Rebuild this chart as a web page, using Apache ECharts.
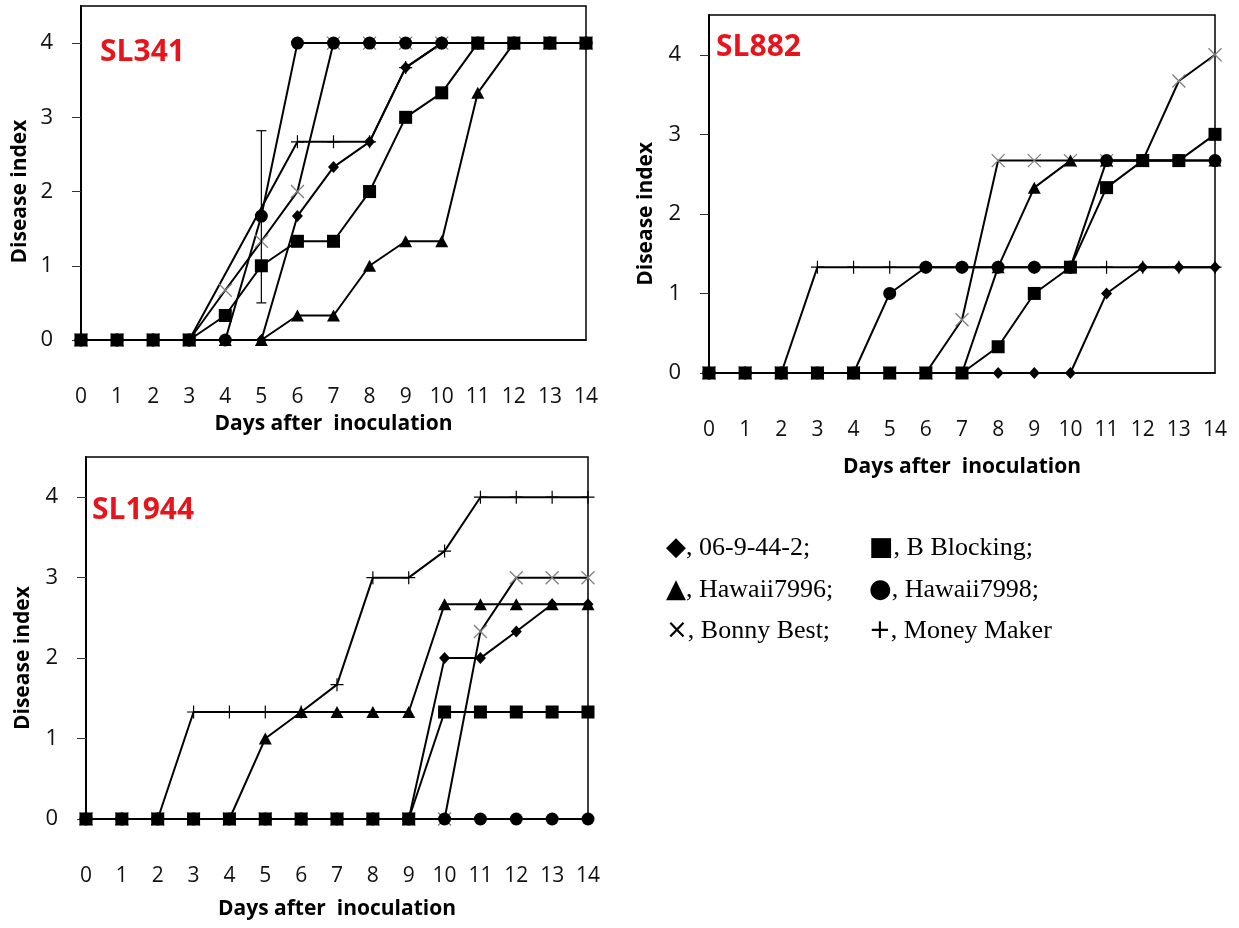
<!DOCTYPE html>
<html>
<head>
<meta charset="utf-8">
<script src="https://cdn.jsdelivr.net/npm/echarts@6/dist/echarts.min.js"></script>
<style>
  html, body { margin: 0; padding: 0; background: #ffffff; }
  #chart { width: 1239px; height: 928px; }
</style>
</head>
<body>
<div id="chart"></div>
<script>
// Days after inoculation (x axis) and disease-index ticks (y axis)
const days = [0, 1, 2, 3, 4, 5, 6, 7, 8, 9, 10, 11, 12, 13, 14];
const indexTicks = [0, 1, 2, 3, 4];

// Tomato lines tested
const cultivars = ['06-9-44-2', 'B Blocking', 'Hawaii7996', 'Hawaii7998', 'Bonny Best', 'Money Maker'];

// Isolates
const isolates = ['SL341', 'SL882', 'SL1944'];

// SL341 disease index per day
const sl341_069442     = [0, 0, 0, 0, 0, 0, 1.67, 2.33, 2.67, 3.67, 4, 4, 4, 4, 4];
const sl341_bBlocking  = [0, 0, 0, 0, 0.33, 1, 1.33, 1.33, 2, 3, 3.33, 4, 4, 4, 4];
const sl341_hawaii7996 = [0, 0, 0, 0, 0, 0, 0.33, 0.33, 1, 1.33, 1.33, 3.33, 4, 4, 4];
const sl341_hawaii7998 = [0, 0, 0, 0, 0, 1.67, 4, 4, 4, 4, 4, 4, 4, 4, 4];
const sl341_bonnyBest  = [0, 0, 0, 0, 0.67, 1.33, 2, 4, 4, 4, 4, 4, 4, 4, 4];
const sl341_moneyMaker = [0, 0, 0, 0, null, null, 2.67, 2.67, 2.67, 3.67, 4, 4, 4, 4, 4];

// SL341 error bar on Hawaii7998, day 5: [day, low, high]
const sl341_errorBars = [[5, 0.5, 2.82]];

// SL882 disease index per day
const sl882_069442     = [0, 0, 0, 0, 0, 0, 0, 0, 0, 0, 0, 1, 1.33, 1.33, 1.33];
const sl882_bBlocking  = [0, 0, 0, 0, 0, 0, 0, 0, 0.33, 1, 1.33, 2.33, 2.67, 2.67, 3];
const sl882_hawaii7996 = [0, 0, 0, 0, 0, 0, 0, 0, 1.33, 2.33, 2.67, 2.67, 2.67, 2.67, 2.67];
const sl882_hawaii7998 = [0, 0, 0, 0, 0, 1, 1.33, 1.33, 1.33, 1.33, 1.33, 2.67, 2.67, 2.67, 2.67];
const sl882_bonnyBest  = [0, 0, 0, 0, 0, 0, 0, 0.67, 2.67, 2.67, 2.67, 2.67, 2.67, 3.67, 4];
const sl882_moneyMaker = [0, 0, 0, 1.33, 1.33, 1.33, 1.33, 1.33, 1.33, 1.33, 1.33, 1.33, 1.33, 1.33, 1.33];

// SL1944 disease index per day
const sl1944_069442     = [0, 0, 0, 0, 0, 0, 0, 0, 0, 0, 2, 2, 2.33, 2.67, 2.67];
const sl1944_bBlocking  = [0, 0, 0, 0, 0, 0, 0, 0, 0, 0, 1.33, 1.33, 1.33, 1.33, 1.33];
const sl1944_hawaii7996 = [0, 0, 0, 0, 0, 1, 1.33, 1.33, 1.33, 1.33, 2.67, 2.67, 2.67, 2.67, 2.67];
const sl1944_hawaii7998 = [0, 0, 0, 0, 0, 0, 0, 0, 0, 0, 0, 0, 0, 0, 0];
const sl1944_bonnyBest  = [0, 0, 0, 0, 0, 0, 0, 0, 0, 0, 0, 2.33, 3, 3, 3];
const sl1944_moneyMaker = [0, 0, 0, 1.33, 1.33, 1.33, 1.33, 1.67, 3, 3, 3.33, 4, 4, 4, 4];

const panelData = [
  [sl341_069442, sl341_bBlocking, sl341_hawaii7996, sl341_hawaii7998, sl341_bonnyBest, sl341_moneyMaker],
  [sl882_069442, sl882_bBlocking, sl882_hawaii7996, sl882_hawaii7998, sl882_bonnyBest, sl882_moneyMaker],
  [sl1944_069442, sl1944_bBlocking, sl1944_hawaii7996, sl1944_hawaii7998, sl1944_bonnyBest, sl1944_moneyMaker]
];

// ---- layout & styling ----
const Y_MAX = 4.5;
const grids = [
  { left: 81,  top: 6,   width: 505, height: 334 },
  { left: 709, top: 15,  width: 506, height: 358 },
  { left: 86,  top: 457, width: 502, height: 362 }
];
const xNameGaps = [74, 84, 80];
const yNameX = [20, 646, 23];

const crossPath = 'path://M0,0L20,20M20,0L0,20';
const plusPath = 'path://M10,0L10,20M0,10L20,10';

// marker style per cultivar (same order as cultivars)
const markerStyles = [
  { symbol: 'diamond',  size: [11, 12], fill: '#000', stroke: '#000', bw: 0 },
  { symbol: 'rect',     size: 13, fill: '#000', stroke: '#000', bw: 0 },
  { symbol: 'triangle', size: [13, 12], fill: '#000', stroke: '#000', bw: 0 },
  { symbol: 'circle',   size: 13, fill: '#000', stroke: '#000', bw: 0 },
  { symbol: crossPath,  size: 13, fill: 'rgba(0,0,0,0)', stroke: '#808080', bw: 1.3 },
  { symbol: plusPath,   size: 13, fill: 'rgba(0,0,0,0)', stroke: '#000', bw: 1.2 }
];
// drawing order (first = bottom): Money Maker, Bonny Best, 06-9-44-2, Hawaii7996, Hawaii7998, B Blocking
const drawOrder = [5, 4, 0, 2, 3, 1];

const labelFont = 'Open Sans';

const option = {
  animation: false,
  backgroundColor: '#ffffff',
  grid: grids.map(g => Object.assign({
    show: true, borderColor: '#000', borderWidth: 1.5, backgroundColor: 'transparent', containLabel: false
  }, g)),
  xAxis: grids.map((g, i) => ({
    type: 'value', gridIndex: i, min: 0, max: 14, interval: 1,
    axisLine: { show: true, onZero: false, lineStyle: { color: '#000', width: 1.5 } },
    axisTick: { show: false },
    splitLine: { show: false },
    axisLabel: { margin: 47, fontSize: 21, color: '#111', fontFamily: labelFont },
    name: 'Days after  inoculation',
    nameLocation: 'middle',
    nameGap: xNameGaps[i],
    nameTextStyle: { fontSize: 21, fontWeight: 'bold', color: '#000', fontFamily: labelFont }
  })),
  yAxis: grids.map((g, i) => ({
    type: 'value', gridIndex: i, min: 0, max: Y_MAX, interval: 1,
    axisLine: { show: true, lineStyle: { color: '#000', width: 2 } },
    axisTick: { show: true, length: 9, customValues: indexTicks, lineStyle: { color: '#333', width: 1 } },
    splitLine: { show: false },
    axisLabel: {
      customValues: indexTicks, margin: 28, fontSize: 22, color: '#111', fontFamily: labelFont,
      formatter: v => (Number.isInteger(v) ? String(v) : '')
    }
  })),
  series: [],
  graphic: []
};

panelData.forEach((rows, p) => {
  drawOrder.forEach(c => {
    const m = markerStyles[c];
    option.series.push({
      type: 'line',
      name: cultivars[c],
      xAxisIndex: p, yAxisIndex: p,
      data: days.map((d, k) => [d, rows[c][k]]),
      connectNulls: true,
      symbol: m.symbol,
      symbolSize: m.size,
      showSymbol: true,
      lineStyle: { color: '#000', width: 2 },
      itemStyle: { color: m.fill, borderColor: m.stroke, borderWidth: m.bw },
      emphasis: { disabled: true }
    });
  });
});

// standard-deviation bar(s)
option.series.push({
  type: 'custom',
  xAxisIndex: 0, yAxisIndex: 0,
  data: sl341_errorBars,
  z: 5,
  renderItem: (params, api) => {
    const lo = api.coord([api.value(0), api.value(1)]);
    const hi = api.coord([api.value(0), api.value(2)]);
    const cap = 5;
    const style = { stroke: '#000', lineWidth: 1.2 };
    return {
      type: 'group',
      children: [
        { type: 'line', shape: { x1: lo[0], y1: lo[1], x2: hi[0], y2: hi[1] }, style },
        { type: 'line', shape: { x1: lo[0] - cap, y1: lo[1], x2: lo[0] + cap, y2: lo[1] }, style },
        { type: 'line', shape: { x1: hi[0] - cap, y1: hi[1], x2: hi[0] + cap, y2: hi[1] }, style }
      ]
    };
  }
});

// isolate names inside each panel
const isolatePos = [[100, 52], [716, 47], [92, 510]];
isolates.forEach((name, i) => {
  option.graphic.push({
    type: 'text', x: isolatePos[i][0], y: isolatePos[i][1],
    style: { text: name, fill: '#e8141b', font: 'bold 30px "Open Sans"', textVerticalAlign: 'middle' }
  });
});

// y-axis titles, centred on the 0-4 range
grids.forEach((g, i) => {
  const yc = g.top + g.height * (Y_MAX - 2) / Y_MAX;
  option.graphic.push({
    type: 'text', x: yNameX[i], y: yc, rotation: Math.PI / 2,
    style: {
      text: 'Disease index', fill: '#000', font: 'bold 21px "Open Sans"',
      textAlign: 'center', textVerticalAlign: 'middle'
    }
  });
});

// key to the marker symbols
const keyGlyphs = ['\u25C6', '\u25A0', '\u25B2', '\u25CF', '\u00D7', '+'];
const keyText = [', 06-9-44-2;', ', B Blocking;', ', Hawaii7996;', ', Hawaii7998;', ', Bonny Best;', ', Money Maker'];
const keyCols = [666, 869];
const keyRows = [548, 590, 631];
cultivars.forEach((c, i) => {
  option.graphic.push({
    type: 'text',
    x: keyCols[i % 2], y: keyRows[Math.floor(i / 2)],
    style: {
      rich: {
        g: { fontFamily: 'DejaVu Sans', fontSize: 26, fill: '#000' },
        t: { fontFamily: 'Liberation Serif', fontSize: 26, fill: '#000' }
      },
      text: '{g|' + keyGlyphs[i] + '}{t|' + keyText[i] + '}',
      textVerticalAlign: 'middle'
    }
  });
});

const chart = echarts.init(document.getElementById('chart'), null, { renderer: 'canvas' });
chart.setOption(option);
</script>
</body>
</html>
